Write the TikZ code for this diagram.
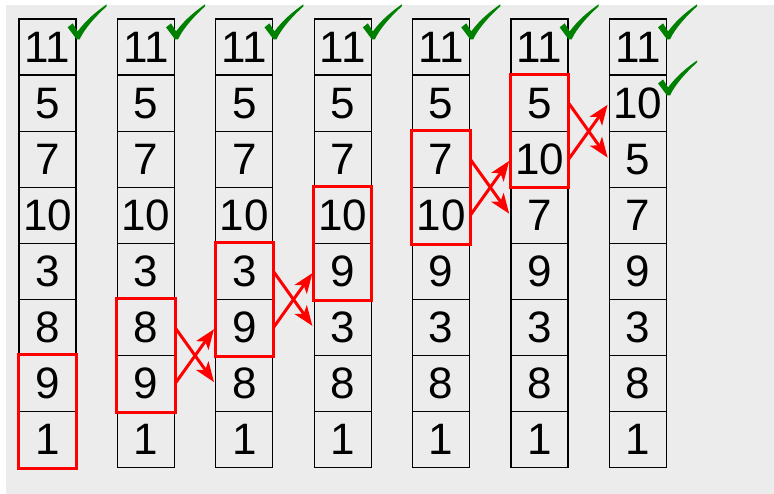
\documentclass[tikz,border=0pt]{standalone}
\usepackage{fontspec}
\setmainfont{Liberation Sans}
\usetikzlibrary{arrows.meta}
\definecolor{panel}{HTML}{ECECEC}
\definecolor{tickgreen}{HTML}{008000}

\begin{document}
\begin{tikzpicture}[x=1pt,y=-1pt,
  cell/.style={draw,line width=1.3pt,minimum width=57pt,minimum height=56.1pt,
    inner sep=0pt,font=\fontsize{44}{44}\selectfont},
  pairbox/.style={draw=red,line width=3pt},
  swaparrow/.style={red,line width=3pt,-{Stealth[length=20pt,width=15pt,inset=5pt]},shorten >=2pt},
  checkmark/.style={fill=tickgreen}]
  \useasboundingbox (0,0) rectangle (774,494);
  \fill[panel] (6,5) rectangle (774,494);
  % one column per pass
  \foreach \c/\vals in {1/{11,5,7,10,3,8,9,1},2/{11,5,7,10,3,8,9,1},
      3/{11,5,7,10,3,9,8,1},4/{11,5,7,10,9,3,8,1},5/{11,5,7,10,9,3,8,1},
      6/{11,5,10,7,9,3,8,1},7/{11,10,5,7,9,3,8,1}}{
    \foreach \v [count=\r] in \vals
      \node[cell] (c\c-\r) at ({47.5+98.4*(\c-1)},{19+56.1*(\r-0.5)}) {\v};
  }
  % compared pairs
  \draw[pairbox] (c1-7.north west) rectangle (c1-8.south east);
  \draw[pairbox] (c2-6.north west) rectangle (c2-7.south east);
  \draw[pairbox] (c3-5.north west) rectangle (c3-6.south east);
  \draw[pairbox] (c4-4.north west) rectangle (c4-5.south east);
  \draw[pairbox] (c5-3.north west) rectangle (c5-4.south east);
  \draw[pairbox] (c6-2.north west) rectangle (c6-3.south east);
  % swaps
  \draw[swaparrow] (c2-6.east) -- (c3-7.west);
  \draw[swaparrow] (c2-7.east) -- (c3-6.west);
  \draw[swaparrow] (c3-5.east) -- (c4-6.west);
  \draw[swaparrow] (c3-6.east) -- (c4-5.west);
  \draw[swaparrow] (c5-3.east) -- (c6-4.west);
  \draw[swaparrow] (c5-4.east) -- (c6-3.west);
  \draw[swaparrow] (c6-2.east) -- (c7-3.west);
  \draw[swaparrow] (c6-3.east) -- (c7-2.west);
  % settled values
  \foreach \cl in {c1-1,c2-1,c3-1,c4-1,c5-1,c6-1,c7-1,c7-2}
    \fill[checkmark,shift={(\cl.north east)}] (-9,9) -- (-4,5) -- (1,13)
      .. controls (10,1) and (20,-7) .. (30,-14) -- (30,-12)
      .. controls (20,-3) and (8,10) .. (3,21) -- (0,21) -- cycle;
\end{tikzpicture}
\end{document}
